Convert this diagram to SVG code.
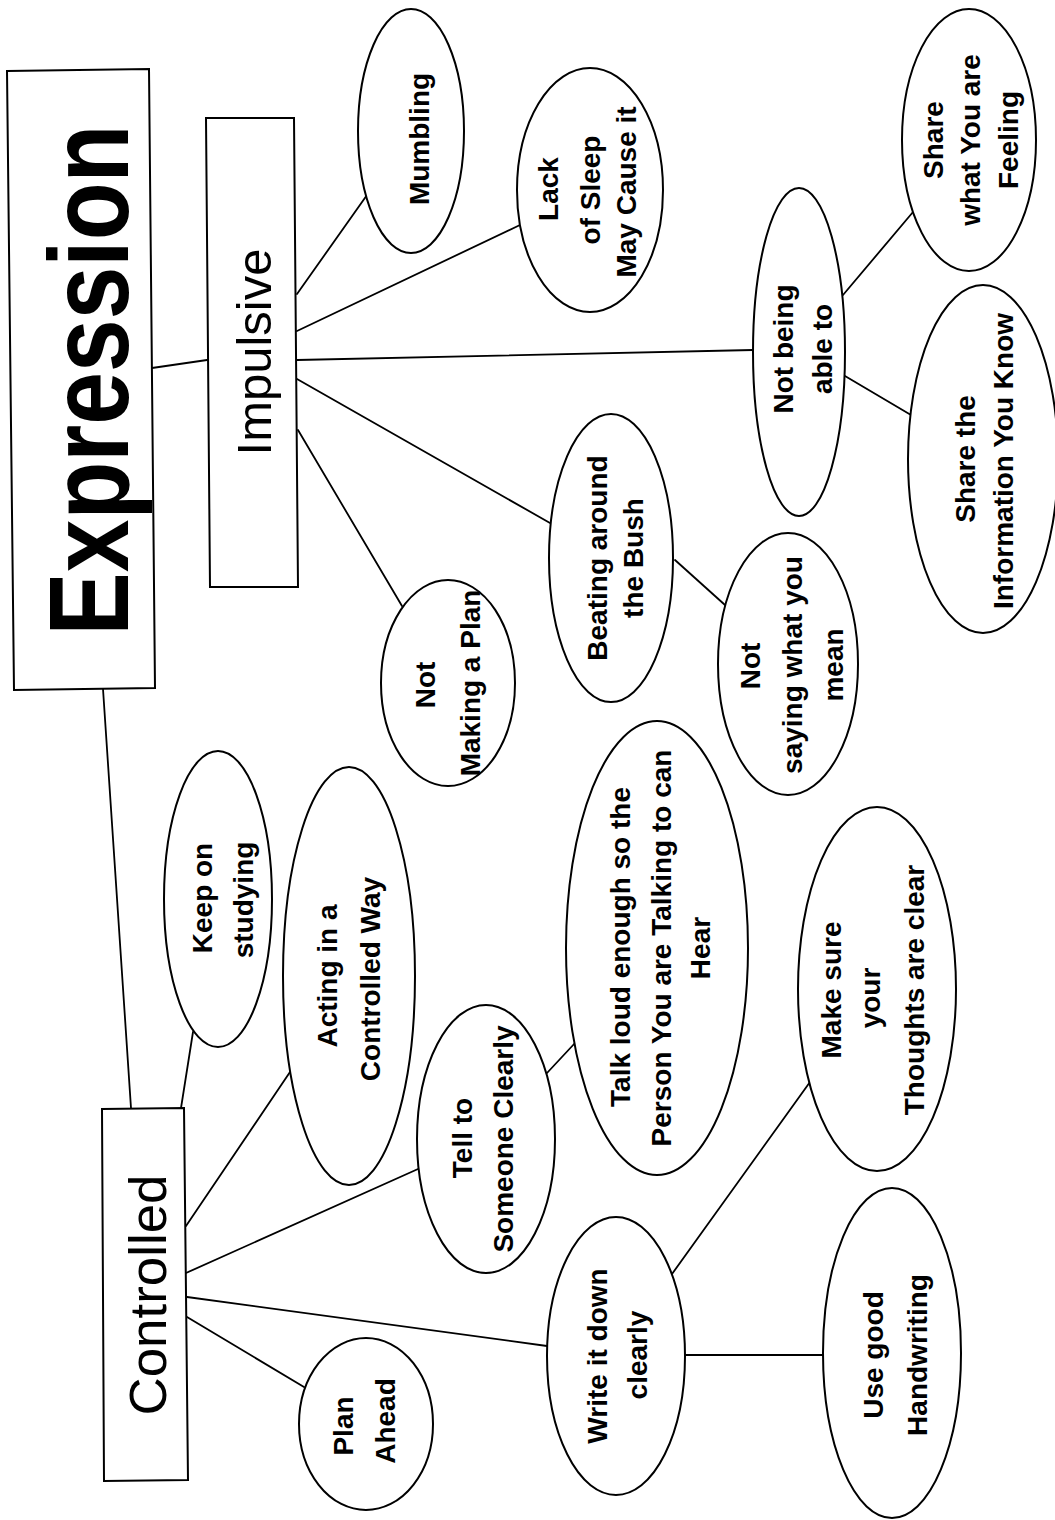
<svg xmlns="http://www.w3.org/2000/svg" width="1055" height="1520" viewBox="0 0 1055 1520">
  <style>
    .box { fill: #fff; stroke: #000; stroke-width: 2; }
    .bub { fill: #fff; stroke: #000; stroke-width: 2; }
    .edge { stroke: #000; stroke-width: 1.8; fill: none; stroke-linecap: round; }
    .lbl { font-family: "Liberation Sans", Arial, sans-serif; font-weight: bold; font-size: 28px; fill: #000; text-anchor: middle; }
    .title { font-family: "Liberation Sans", Arial, sans-serif; fill: #000; text-anchor: middle; }
  </style>
  <rect width="1055" height="1520" fill="#fff"/>

  <!-- connectors -->
  <g id="connectors">
    <line class="edge" x1="152" y1="368" x2="207" y2="360"/>
    <line class="edge" x1="103" y1="689" x2="131" y2="1108"/>
    <line class="edge" x1="297" y1="294" x2="367" y2="195"/>
    <line class="edge" x1="297" y1="331" x2="520" y2="225"/>
    <line class="edge" x1="297" y1="360" x2="753" y2="350"/>
    <line class="edge" x1="297" y1="379" x2="550" y2="523"/>
    <line class="edge" x1="298" y1="430" x2="402" y2="606"/>
    <line class="edge" x1="843" y1="295" x2="913" y2="212"/>
    <line class="edge" x1="845" y1="376" x2="911" y2="415"/>
    <line class="edge" x1="675" y1="560" x2="725" y2="605"/>
    <line class="edge" x1="181" y1="1108" x2="193" y2="1032"/>
    <line class="edge" x1="186" y1="1226" x2="290" y2="1072"/>
    <line class="edge" x1="186" y1="1273" x2="418" y2="1169"/>
    <line class="edge" x1="187" y1="1297" x2="547" y2="1346"/>
    <line class="edge" x1="187" y1="1317" x2="304" y2="1387"/>
    <line class="edge" x1="547" y1="1073" x2="575" y2="1043"/>
    <line class="edge" x1="672" y1="1274" x2="810" y2="1082"/>
    <line class="edge" x1="685" y1="1355" x2="823" y2="1355"/>
  </g>

  <!-- main boxes -->
  <g id="expression">
    <polygon class="box" points="7,71 149,69 155,688 14,690"/>
    <text class="title" transform="rotate(-90)" font-weight="bold" font-size="114"><tspan x="-380" y="128" textLength="511" lengthAdjust="spacingAndGlyphs">Expression</tspan></text>
  </g>
  <g id="impulsive">
    <polygon class="box" points="206,118 294,118 298,587 210,587"/>
    <text class="title" transform="rotate(-90)" font-size="49"><tspan x="-352" y="271">Impulsive</tspan></text>
  </g>
  <g id="controlled">
    <polygon class="box" points="102,1109 184,1108 188,1480 104,1481"/>
    <text class="title" transform="rotate(-90)" font-size="52"><tspan x="-1295" y="166" textLength="241" lengthAdjust="spacingAndGlyphs">Controlled</tspan></text>
  </g>

  <!-- impulsive branch -->
  <g id="mumbling">
    <ellipse class="bub" cx="411" cy="131" rx="53" ry="122"/>
    <text class="lbl" transform="rotate(-90)"><tspan x="-139" y="429">Mumbling</tspan></text>
  </g>
  <g id="lack-of-sleep">
    <ellipse class="bub" cx="590" cy="190" rx="73" ry="122"/>
    <text class="lbl" transform="rotate(-90)"><tspan x="-189" y="558">Lack</tspan><tspan x="-190" y="600">of Sleep</tspan><tspan x="-192" y="636">May Cause it</tspan></text>
  </g>
  <g id="not-being-able">
    <ellipse class="bub" cx="799" cy="352" rx="46" ry="164"/>
    <text class="lbl" transform="rotate(-90)"><tspan x="-349" y="793">Not being</tspan><tspan x="-349" y="832">able to</tspan></text>
  </g>
  <g id="share-feeling">
    <ellipse class="bub" cx="969" cy="140" rx="67" ry="131"/>
    <text class="lbl" transform="rotate(-90)"><tspan x="-140" y="943">Share</tspan><tspan x="-140" y="980">what You are</tspan><tspan x="-140" y="1018">Feeling</tspan></text>
  </g>
  <g id="share-info">
    <ellipse class="bub" cx="983" cy="459" rx="75" ry="174"/>
    <text class="lbl" transform="rotate(-90)"><tspan x="-459" y="975">Share the</tspan><tspan x="-461" y="1013">Information You Know</tspan></text>
  </g>
  <g id="beating">
    <ellipse class="bub" cx="611" cy="558" rx="62" ry="144"/>
    <text class="lbl" transform="rotate(-90)"><tspan x="-558" y="607">Beating around</tspan><tspan x="-558" y="643">the Bush</tspan></text>
  </g>
  <g id="not-saying">
    <ellipse class="bub" cx="788" cy="664" rx="70" ry="131"/>
    <text class="lbl" transform="rotate(-90)"><tspan x="-666" y="760">Not</tspan><tspan x="-665" y="802">saying what you</tspan><tspan x="-665" y="843">mean</tspan></text>
  </g>
  <g id="not-making-plan">
    <ellipse class="bub" cx="448" cy="683" rx="67" ry="103"/>
    <text class="lbl" transform="rotate(-90)"><tspan x="-685" y="435">Not</tspan><tspan x="-683" y="480">Making a Plan</tspan></text>
  </g>

  <!-- controlled branch -->
  <g id="keep-studying">
    <ellipse class="bub" cx="218" cy="899" rx="54" ry="148"/>
    <text class="lbl" transform="rotate(-90)"><tspan x="-898" y="212">Keep on</tspan><tspan x="-900" y="253">studying</tspan></text>
  </g>
  <g id="acting">
    <ellipse class="bub" cx="349" cy="976" rx="66" ry="209"/>
    <text class="lbl" transform="rotate(-90)"><tspan x="-976" y="337">Acting in a</tspan><tspan x="-979" y="380">Controlled Way</tspan></text>
  </g>
  <g id="tell-clearly">
    <ellipse class="bub" cx="486" cy="1139" rx="69" ry="134"/>
    <text class="lbl" transform="rotate(-90)"><tspan x="-1138" y="472">Tell to</tspan><tspan x="-1139" y="513">Someone Clearly</tspan></text>
  </g>
  <g id="talk-loud">
    <ellipse class="bub" cx="657" cy="948" rx="91" ry="227"/>
    <text class="lbl" transform="rotate(-90)"><tspan x="-947" y="630">Talk loud enough so the</tspan><tspan x="-948" y="671">Person You are Talking to can</tspan><tspan x="-948" y="710">Hear</tspan></text>
  </g>
  <g id="thoughts-clear">
    <ellipse class="bub" cx="877" cy="989" rx="79" ry="182"/>
    <text class="lbl" transform="rotate(-90)"><tspan x="-990" y="841">Make sure</tspan><tspan x="-998" y="880">your</tspan><tspan x="-990" y="924">Thoughts are clear</tspan></text>
  </g>
  <g id="write-down">
    <ellipse class="bub" cx="616" cy="1356" rx="69" ry="139"/>
    <text class="lbl" transform="rotate(-90)"><tspan x="-1356" y="607">Write it down</tspan><tspan x="-1355" y="647">clearly</tspan></text>
  </g>
  <g id="handwriting">
    <ellipse class="bub" cx="892" cy="1353" rx="69" ry="165"/>
    <text class="lbl" transform="rotate(-90)"><tspan x="-1355" y="883">Use good</tspan><tspan x="-1355" y="927">Handwriting</tspan></text>
  </g>
  <g id="plan-ahead">
    <ellipse class="bub" cx="366" cy="1424" rx="67" ry="86"/>
    <text class="lbl" transform="rotate(-90)"><tspan x="-1426" y="353">Plan</tspan><tspan x="-1421" y="395">Ahead</tspan></text>
  </g>
</svg>
